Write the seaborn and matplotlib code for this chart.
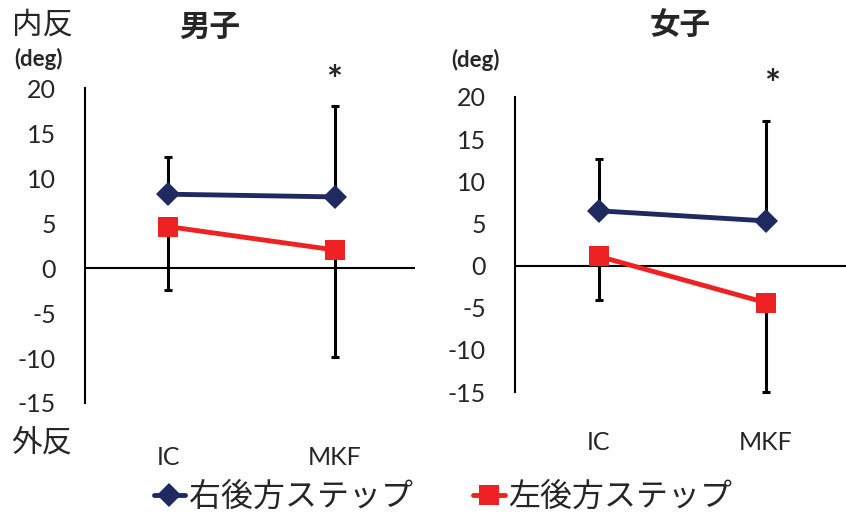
import pandas as pd
import seaborn as sns
import matplotlib.pyplot as plt
from matplotlib.lines import Line2D


phases = ['IC', 'MKF']
series = ['右後方ステップ', '左後方ステップ']

# 男子
boys_right = [8.2, 7.9]
boys_right_sd = [4.1, 10.1]
boys_left = [4.6, 2.0]
boys_left_sd = [7.0, 11.9]

# 女子
girls_right = [6.5, 5.3]
girls_right_sd = [6.2, 11.8]
girls_left = [1.1, -4.4]
girls_left_sd = [5.2, 10.6]

y_ticks = [20, 15, 10, 5, 0, -5, -10, -15]

COLORS = {'右後方ステップ': '#1f2a60', '左後方ステップ': '#ee2222'}
MARKERS = {'右後方ステップ': 'D', '左後方ステップ': 's'}
W, H = 846, 515


def px(x, y):
    return x / W, 1 - y / H


def make_df(right, left):
    rows = []
    for i, ph in enumerate(phases):
        rows.append({'phase': ph, 'step': series[0], 'value': right[i]})
        rows.append({'phase': ph, 'step': series[1], 'value': left[i]})
    return pd.DataFrame.from_records(rows)


def draw_panel(ax, right, right_sd, left, left_sd, xpad):
    df = make_df(right, left)
    # error bars: blue upwards, red downwards
    ax.errorbar(phases, right, yerr=[[0, 0], right_sd], fmt='none', ecolor='black',
                elinewidth=2.2, capsize=3, capthick=2.2, zorder=1, clip_on=False)
    ax.errorbar(phases, left, yerr=[left_sd, [0, 0]], fmt='none', ecolor='black',
                elinewidth=2.2, capsize=3, capthick=2.2, zorder=1, clip_on=False)
    sns.lineplot(data=df, x='phase', y='value', hue='step', style='step',
                 palette=COLORS, markers=MARKERS, dashes=False, linewidth=3.5,
                 markeredgewidth=0, legend=False, ax=ax, zorder=3)
    for line in ax.get_lines():
        if line.get_marker() == 's':
            line.set_markersize(14)
        elif line.get_marker() == 'D':
            line.set_markersize(12.5)
    ax.axhline(0, color='black', lw=1.5, zorder=2)
    ax.set_xlim(-0.5, 1.48)
    ax.set_ylim(-15, 20)
    ax.set_yticks(y_ticks)
    ax.set_xlabel('')
    ax.set_ylabel('')
    for s in ['top', 'right', 'bottom']:
        ax.spines[s].set_visible(False)
    ax.spines['left'].set_color('black')
    ax.spines['left'].set_linewidth(1.5)
    ax.tick_params(axis='y', length=0, pad=21, labelsize=18)
    ax.tick_params(axis='x', length=0, pad=xpad, labelsize=18)


def main():
    sns.set_style('white')
    plt.rcParams['font.family'] = ['Lato', 'Noto Sans CJK JP', 'DejaVu Sans']
    plt.rcParams['axes.unicode_minus'] = False

    fig = plt.figure(figsize=(W / 100, H / 100), dpi=100)
    ax1 = fig.add_axes([85 / W, 1 - 403 / H, 330 / W, 315 / H])
    ax2 = fig.add_axes([515 / W, 1 - 392 / H, 331 / W, 295 / H])

    draw_panel(ax1, boys_right, boys_right_sd, boys_left, boys_left_sd, 31)
    draw_panel(ax2, girls_right, girls_right_sd, girls_left, girls_left_sd, 28)

    cjk = ['Noto Sans CJK JP', 'DejaVu Sans']
    fig.text(*px(210, 27), '男子', fontsize=22, family=cjk, fontweight='bold', ha='center', va='center')
    fig.text(*px(680, 25), '女子', fontsize=22, family=cjk, fontweight='bold', ha='center', va='center')
    fig.text(*px(42, 25), '内反', fontsize=22, family=cjk, ha='center', va='center')
    fig.text(*px(42, 443), '外反', fontsize=22, family=cjk, ha='center', va='center')
    fig.text(*px(38, 59), '(deg)', fontsize=16, fontweight='bold', ha='center', va='center')
    fig.text(*px(475, 60), '(deg)', fontsize=16, fontweight='bold', ha='center', va='center')
    fig.text(*px(334, 82), '*', fontsize=27, fontweight='bold', ha='center', va='center')
    fig.text(*px(772, 86), '*', fontsize=27, fontweight='bold', ha='center', va='center')

    handles = [Line2D([], [], color=COLORS[s], marker=MARKERS[s], lw=3.5,
                      markersize=12.5 if MARKERS[s] == 'D' else 14, markeredgewidth=0)
               for s in series]
    fig.legend(handles, series, loc='center', bbox_to_anchor=px(443, 497), ncol=2,
               frameon=False, handlelength=1.0, handletextpad=0.1, columnspacing=1.9,
               prop={'family': cjk, 'size': 23})

    fig.savefig('out.png', dpi=100)


if __name__ == '__main__':
    main()
